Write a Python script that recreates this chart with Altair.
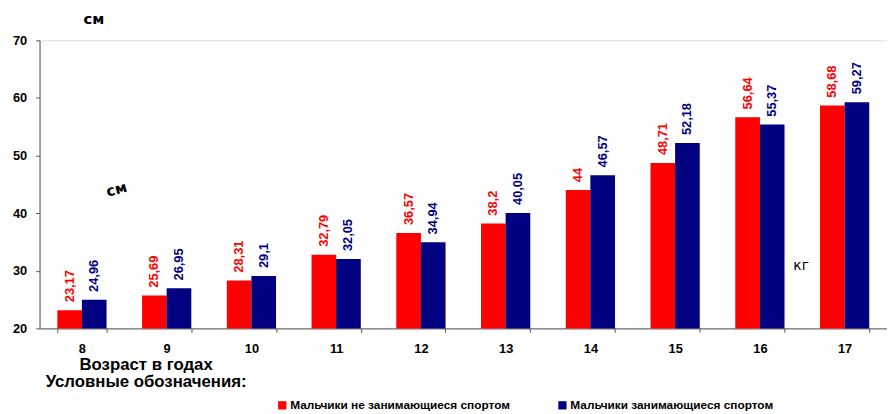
import altair as alt
import pandas as pd

ages = ["8", "9", "10", "11", "12", "13", "14", "15", "16", "17"]
non_sport = [23.17, 25.69, 28.31, 32.79, 36.57, 38.2, 44, 48.71, 56.64, 58.68]
sport = [24.96, 26.95, 29.1, 32.05, 34.94, 40.05, 46.57, 52.18, 55.37, 59.27]
series_names = ["Мальчики не занимающиеся спортом", "Мальчики занимающиеся спортом"]
series_colors = ["#FF0000", "#000080"]

rows = []
for i, a in enumerate(ages):
    for name, vals in zip(series_names, [non_sport, sport]):
        v = vals[i]
        rows.append({"age": a, "series": name, "value": v,
                     "label": str(v).replace(".", ",")})
df = pd.DataFrame(rows)

FONT = "Liberation Sans"

x_enc = alt.X("age:N", sort=ages, title=None,
              scale=alt.Scale(paddingInner=0.42, paddingOuter=0.21),
              axis=alt.Axis(labelAngle=0, labelFont=FONT, labelFontSize=13,
                            labelFontWeight="bold", labelColor="black",
                            tickBand="extent", tickColor="#555", domainColor="#555",
                            labelPadding=10, tickSize=4, grid=False))
y_enc = alt.Y("value:Q", title=None,
              scale=alt.Scale(domain=[20, 70], nice=False, zero=False),
              axis=alt.Axis(values=[20, 30, 40, 50, 60, 70], labelFont=FONT,
                            labelFontSize=13, labelFontWeight="bold",
                            labelColor="black", tickSize=4, tickColor="#555",
                            domainColor="#555", labelPadding=9, grid=False))
color_enc = alt.Color("series:N", sort=series_names,
                      scale=alt.Scale(domain=series_names, range=series_colors),
                      legend=alt.Legend(title=None, orient="none", direction="horizontal",
                                        columns=2, legendX=240, legendY=364,
                                        symbolType="square", symbolSize=70,
                                        symbolStrokeWidth=0, symbolOffset=0,
                                        labelFont=FONT, labelFontSize=12,
                                        labelFontWeight="bold", labelColor="black",
                                        labelOffset=2, labelLimit=400,
                                        columnPadding=46))

base = alt.Chart(df)
bars = base.mark_bar(size=25, clip=True).encode(
    x=x_enc, y=y_enc, xOffset=alt.XOffset("series:N", sort=series_names),
    color=color_enc)

labels = base.mark_text(angle=270, align="left", baseline="middle", dx=8,
                        font=FONT, fontSize=13, fontWeight="bold").encode(
    x=alt.X("age:N", sort=ages),
    xOffset=alt.XOffset("series:N", sort=series_names),
    y="value:Q", text="label:N",
    color=alt.Color("series:N", scale=alt.Scale(domain=series_names, range=series_colors),
                    legend=None))

def note(txt, x, y, size, weight="normal", angle=0, font=FONT, align="center"):
    return alt.Chart(pd.DataFrame({"t": [txt]})).mark_text(
        font=font, fontSize=size, fontWeight=weight, angle=angle, align=align,
        baseline="middle", color="black").encode(
        x=alt.value(x), y=alt.value(y), text="t:N")

notes = [
    note("см", 55, -22, 15, "bold", font="DejaVu Sans"),
    note("см", 78, 151, 15, "bold", angle=345, font="DejaVu Sans"),
    note("кг", 772, 229, 14, font="DejaVu Sans"),
    note("Возраст в годах", 108, 329, 17, "bold"),
    note("Условные обозначения:", 108, 346, 17, "bold"),
]

chart = alt.layer(bars, labels, *notes).properties(
    width=859, height=292,
    autosize=alt.AutoSizeParams(type="none"),
    padding={"left": 32, "top": 30, "right": 0, "bottom": 84},
).configure_view(stroke=None).configure(background="white")

chart.save("out.html", embed_options={"renderer": "svg", "actions": False})
